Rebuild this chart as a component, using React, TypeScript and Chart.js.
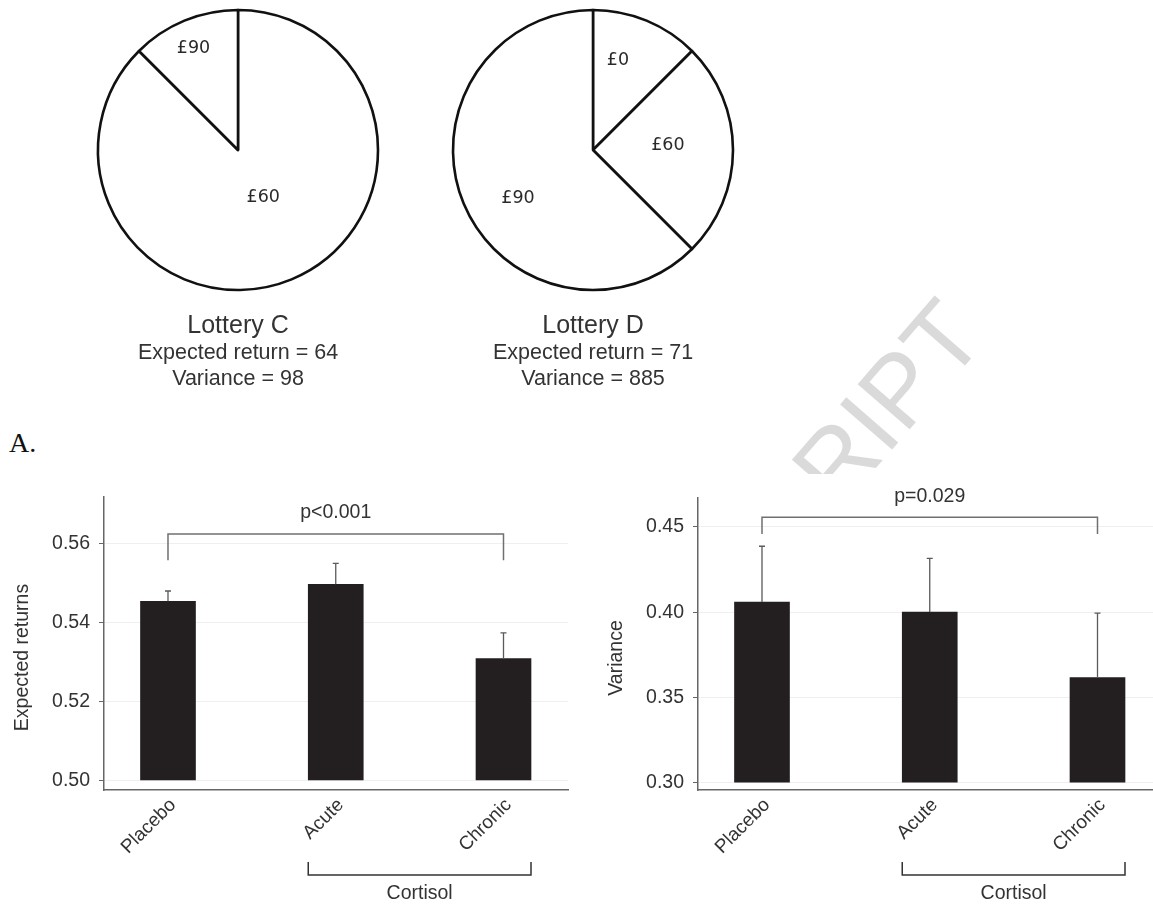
import React, { useEffect, useRef } from 'react';
import { Chart, registerables } from 'chart.js';

Chart.register(...registerables);

const SANS = 'Liberation Sans, Arial, Helvetica, sans-serif';
const PIE_SANS = 'DejaVu Sans, Verdana, sans-serif';

// ---- Lottery pies (slice shares, % of the circle, clockwise from 12 o'clock) ----
const lotteryCPrizes = ['£60', '£90'];
const lotteryCShares = [87.5, 12.5];
const lotteryCText = ['Lottery C', 'Expected return = 64', 'Variance = 98'];
const lotteryDPrizes = ['£0', '£60', '£90'];
const lotteryDShares = [12.5, 25, 62.5];
const lotteryDText = ['Lottery D', 'Expected return = 71', 'Variance = 885'];

// ---- Bar panels ----
const conditions = ['Placebo', 'Acute', 'Chronic'];
const expectedReturnMeans = [0.5454, 0.5497, 0.5309];
const expectedReturnErrors = [0.0026, 0.0053, 0.0065];
const expectedReturnTicks = [0.5, 0.52, 0.54, 0.56];
const expectedReturnRange = [0.4976, 0.5718];
const expectedReturnSig = ['p<0.001', 0.5624, 0.5558];

const varianceMeans = [0.406, 0.4001, 0.3617];
const varianceErrors = [0.0327, 0.0315, 0.0378];
const varianceTicks = [0.3, 0.35, 0.4, 0.45];
const varianceRange = [0.2957, 0.467];
const varianceSig = ['p=0.029', 0.4557, 0.4459];

const sigPair = [0, 2];
const groupName = 'Cortisol';
const groupMembers = [1, 2];
const categoryRange = [-0.3815, 2.3845];

// label placement inside pies: [radius fraction, angular shift in degrees]
const cLabelPlacement = [[0.386, -5.4], [0.79, -1.2]];
const dLabelPlacement = [[0.667, -7], [0.536, -3.2], [0.637, -10.3]];

function PieChart(props: any) {
  const ref = useRef<HTMLCanvasElement>(null);
  useEffect(() => {
    const { prizes, shares, text, placement } = props;
    const pieText = {
      id: 'pieText',
      afterDraw(chart: any) {
        const ctx = chart.ctx;
        const arcs = chart.getDatasetMeta(0).data;
        ctx.save();
        ctx.fillStyle = '#2a2a2a';
        ctx.textAlign = 'center';
        ctx.textBaseline = 'middle';
        ctx.font = `17.5px ${PIE_SANS}`;
        arcs.forEach((arc: any, i: number) => {
          const p = arc.getProps(['x', 'y', 'startAngle', 'endAngle', 'outerRadius'], true);
          const a = (p.startAngle + p.endAngle) / 2 + (placement[i][1] * Math.PI) / 180;
          const r = p.outerRadius * placement[i][0];
          ctx.fillText(prizes[i], p.x + Math.cos(a) * r, p.y + Math.sin(a) * r);
        });
        const cx = chart.chartArea.left + chart.chartArea.width / 2;
        ctx.textBaseline = 'alphabetic';
        ctx.fillStyle = '#333';
        ctx.font = `25px ${SANS}`;
        ctx.fillText(text[0], cx, 333);
        ctx.font = `21.5px ${SANS}`;
        ctx.fillText(text[1], cx, 359);
        ctx.fillText(text[2], cx, 385);
        ctx.restore();
      },
    };
    const chart = new Chart(ref.current as HTMLCanvasElement, {
      type: 'pie',
      data: {
        labels: prizes,
        datasets: [
          {
            data: shares,
            backgroundColor: '#ffffff',
            borderColor: '#111111',
            borderWidth: 2.6,
            borderJoinStyle: 'round',
            radius: 140,
          } as any,
        ],
      },
      options: {
        responsive: false,
        animation: false,
        events: [],
        layout: { padding: { top: 0, left: 0, right: 0, bottom: 95 } },
        plugins: { legend: { display: false }, tooltip: { enabled: false } },
      },
      plugins: [pieText],
    });
    return () => chart.destroy();
  }, []);
  return (
    <canvas
      ref={ref}
      width={300}
      height={395}
      style={{ position: 'absolute', left: props.left, top: 0 }}
    />
  );
}

function BarPanel(props: any) {
  const ref = useRef<HTMLCanvasElement>(null);
  useEffect(() => {
    const { means, errors, ticks, range, title, sig, yWidth, padTop } = props;
    const overlay = {
      id: 'overlay',
      afterDatasetsDraw(chart: any) {
        const ctx = chart.ctx;
        const ys = chart.scales.y;
        const bars = chart.getDatasetMeta(0).data;
        ctx.save();
        ctx.strokeStyle = '#5a5a5a';
        ctx.lineWidth = 1.3;
        bars.forEach((bar: any, i: number) => {
          const top = ys.getPixelForValue(means[i] + errors[i]);
          ctx.beginPath();
          ctx.moveTo(bar.x, bar.y);
          ctx.lineTo(bar.x, top);
          ctx.moveTo(bar.x - 3, top);
          ctx.lineTo(bar.x + 3, top);
          ctx.stroke();
        });
        ctx.restore();
      },
      afterDraw(chart: any) {
        const { ctx, chartArea } = chart;
        const xs = chart.scales.x;
        const ys = chart.scales.y;
        const bars = chart.getDatasetMeta(0).data;
        ctx.save();
        const x1 = xs.getPixelForValue(sigPair[0]);
        const x2 = xs.getPixelForValue(sigPair[1]);
        const yb = ys.getPixelForValue(sig[1]);
        const yd = ys.getPixelForValue(sig[2]);
        ctx.strokeStyle = '#707070';
        ctx.lineWidth = 1.5;
        ctx.beginPath();
        ctx.moveTo(x1, yd);
        ctx.lineTo(x1, yb);
        ctx.lineTo(x2, yb);
        ctx.lineTo(x2, yd);
        ctx.stroke();
        ctx.fillStyle = '#333';
        ctx.font = `19.5px ${SANS}`;
        ctx.textAlign = 'center';
        ctx.textBaseline = 'middle';
        ctx.fillText(sig[0], (x1 + x2) / 2, yb - 21);

        const a = bars[groupMembers[0]];
        const b = bars[groupMembers[1]];
        const gx1 = a.x - a.width / 2;
        const gx2 = b.x + b.width / 2;
        const gy = chartArea.bottom + 85;
        ctx.strokeStyle = '#333';
        ctx.beginPath();
        ctx.moveTo(gx1, gy - 13);
        ctx.lineTo(gx1, gy);
        ctx.lineTo(gx2, gy);
        ctx.lineTo(gx2, gy - 13);
        ctx.stroke();
        ctx.fillText(groupName, (gx1 + gx2) / 2, gy + 19);

        ctx.translate(chartArea.left - 81, (chartArea.top + chartArea.bottom) / 2 + 14);
        ctx.rotate(-Math.PI / 2);
        ctx.fillText(title, 0, 0);
        ctx.restore();
      },
    };
    const chart = new Chart(ref.current as HTMLCanvasElement, {
      type: 'bar',
      data: {
        datasets: [
          {
            data: conditions.map((_, i) => ({ x: i, y: means[i] })),
            backgroundColor: '#231f20',
            borderWidth: 0,
            barThickness: 55,
            base: ticks[0],
          } as any,
        ],
      },
      options: {
        responsive: false,
        animation: false,
        events: [],
        layout: { padding: { top: padTop, right: 12, bottom: 0, left: 0 } },
        plugins: { legend: { display: false }, tooltip: { enabled: false } },
        scales: {
          x: {
            type: 'linear',
            offset: false,
            min: categoryRange[0],
            max: categoryRange[1],
            grid: { display: false, drawTicks: false, offset: false },
            border: { display: true, color: '#666', width: 1.5 },
            afterBuildTicks: (s: any) => {
              s.ticks = conditions.map((_, i) => ({ value: i }));
            },
            afterFit: (s: any) => {
              s.height = 115;
            },
            ticks: {
              autoSkip: false,
              minRotation: 45,
              maxRotation: 45,
              padding: 4,
              labelOffset: 5,
              color: '#333',
              font: { family: SANS, size: 19 },
              callback: (v: any) => conditions[Number(v)] ?? '',
            },
          },
          y: {
            min: range[0],
            max: range[1],
            afterBuildTicks: (s: any) => {
              s.ticks = ticks.map((v: number) => ({ value: v }));
            },
            afterFit: (s: any) => {
              s.width = yWidth;
            },
            grid: { color: '#efefef', tickColor: '#666', tickLength: 5, lineWidth: 1 },
            border: { display: true, color: '#666', width: 1.5 },
            ticks: {
              padding: 9,
              color: '#333',
              font: { family: SANS, size: 19.5 },
              callback: (v: any) => Number(v).toFixed(2),
            },
          },
        } as any,
      },
      plugins: [overlay],
    });
    return () => chart.destroy();
  }, []);
  return (
    <canvas
      ref={ref}
      width={props.width}
      height={475}
      style={{ position: 'absolute', left: props.left, top: 430 }}
    />
  );
}

export default function App() {
  return (
    <div
      style={{
        position: 'absolute',
        left: 0,
        top: 0,
        width: 1153,
        height: 905,
        overflow: 'hidden',
        background: '#ffffff',
      }}
    >
      <div
        style={{
          position: 'absolute',
          left: 988,
          top: 339,
          transformOrigin: '0 0',
          transform: 'rotate(-49deg) translate(-100%, -85px)',
          fontFamily: SANS,
          fontSize: 100,
          lineHeight: '100px',
          color: '#dadada',
          whiteSpace: 'nowrap',
        }}
      >
        RIPT
      </div>
      <div
        style={{
          position: 'absolute',
          left: 578,
          top: 474,
          width: 575,
          height: 431,
          background: '#ffffff',
        }}
      />
      <PieChart
        prizes={lotteryCPrizes}
        shares={lotteryCShares}
        text={lotteryCText}
        placement={cLabelPlacement}
        left={88}
      />
      <PieChart
        prizes={lotteryDPrizes}
        shares={lotteryDShares}
        text={lotteryDText}
        placement={dLabelPlacement}
        left={443}
      />
      <div
        style={{
          position: 'absolute',
          left: 9,
          top: 429,
          fontFamily: 'Liberation Serif, Times New Roman, serif',
          fontSize: 28,
          lineHeight: '28px',
          color: '#111',
        }}
      >
        A.
      </div>
      <BarPanel
        means={expectedReturnMeans}
        errors={expectedReturnErrors}
        ticks={expectedReturnTicks}
        range={expectedReturnRange}
        title="Expected returns"
        sig={expectedReturnSig}
        yWidth={104}
        padTop={67}
        left={0}
        width={580}
      />
      <BarPanel
        means={varianceMeans}
        errors={varianceErrors}
        ticks={varianceTicks}
        range={varianceRange}
        title="Variance"
        sig={varianceSig}
        yWidth={118}
        padTop={68}
        left={580}
        width={594}
      />
    </div>
  );
}
